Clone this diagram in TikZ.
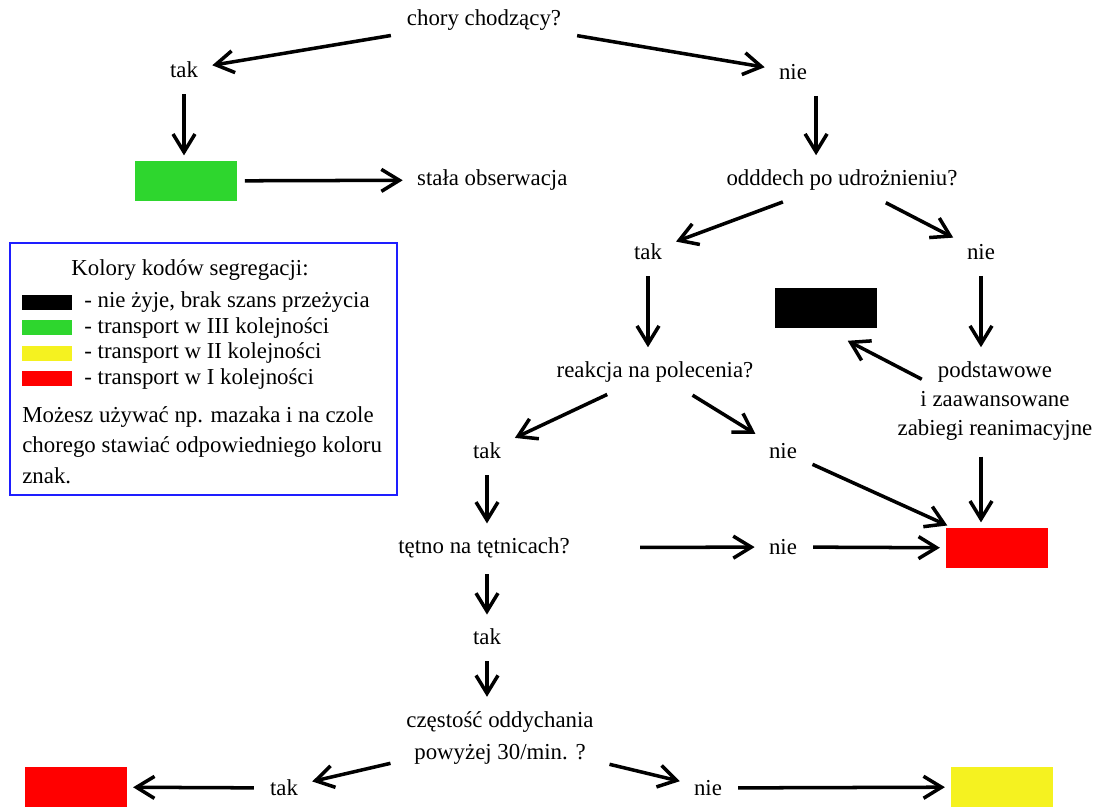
\documentclass[tikz,border=0pt]{standalone}
\usepackage{fontspec}
\setmainfont{Liberation Serif}
\usetikzlibrary{arrows.meta,calc}
\definecolor{kgreen}{RGB}{46,214,46}
\definecolor{kred}{RGB}{255,0,0}
\definecolor{kyellow}{RGB}{245,242,32}
\definecolor{kblue}{RGB}{30,30,255}
\tikzset{ txt/.style = { inner sep = 5pt % question / answer
, font = \fontsize{13}{16.5}\selectfont
}
, box/.style = { rectangle % colour code
, minimum width = 2.06cm
, minimum height = 0.8cm
, inner sep = 0pt
}
, swatch/.style = { rectangle % legend colour
, minimum width = 1cm
, minimum height = 0.3cm
, inner sep = 0pt
}
, arr/.style = { -{Straight Barb[length=3.6mm,width=4.4mm,line width=2pt]}
, line width = 2pt
, shorten <= 4pt
, shorten >= 3pt
}
}

\begin{document}
\begin{tikzpicture}[x=0.02cm, y=-0.02cm]
  \useasboundingbox (0,0) rectangle (1100,807);
  % flow chart
  \node[txt] (q1) at (484,20) {chory chodzący?};
  \node[txt] (t1) at (184,70) {tak};
  \node[txt] (n1) at (793,72) {nie};
  \node[box, fill=kgreen] (g1) at (186,181) {};
  \node[txt, anchor=west] (obs) at (408,180) {stała obserwacja};
  \node[txt] (q2) at (842,180) {odddech po udrożnieniu?};
  \node[txt] (t2) at (648,252) {tak};
  \node[txt] (n2) at (981,252) {nie};
  \node[box, fill=black] (b1) at (826,308) {};
  \node[txt] (q3) at (655,372) {reakcja na polecenia?};
  \node[txt, align=center] (cpr) at (995,401) {podstawowe\\i zaawansowane\\zabiegi reanimacyjne};
  \node[txt] (t3) at (487,451) {tak};
  \node[txt] (n3) at (783,451) {nie};
  \node[box, fill=kred] (r1) at (997,548) {};
  \node[txt] (q4) at (484,548) {tętno na tętnicach?};
  \node[txt] (n4) at (783,547) {nie};
  \node[txt] (t4) at (487,637) {tak};
  \node[txt, align=center, font=\fontsize{13}{18.7}\selectfont] (q5) at (500,738) {częstość oddychania\\powyżej 30/min. ?};
  \node[txt] (t5) at (284,788) {tak};
  \node[txt] (n5) at (708,788) {nie};
  \node[box, fill=kred] (r2) at (76,787) {};
  \node[box, fill=kyellow] (y1) at (1002,787) {};

  \draw[arr] (q1) -- (t1);
  \draw[arr] (q1) -- (n1);
  \draw[arr] (t1.south) -- (t1.south |- g1.north);
  \draw[arr] (g1) -- (obs);
  \draw[arr] (n1.south east) -- (n1.south east |- q2.north);
  \draw[arr] (q2) -- (t2);
  \draw[arr] (q2) -- (n2);
  \draw[arr] (t2.south) -- (t2.south |- q3.north);
  \draw[arr] (n2.south) -- (n2.south |- cpr.north);
  \draw[arr] ($(cpr.north)+(-67,30)$) -- ($(b1.south)+(17,10)$);
  \draw[arr] (n2.south |- cpr.south) -- (n2.south |- r1.north);
  \draw[arr] (q3) -- (t3);
  \draw[arr] (q3) -- (n3);
  \draw[arr] (n3) -- (r1);
  \draw[arr] (t3.south) -- (t3.south |- q4.north);
  \draw[arr, shorten <= 35pt] (q4) -- (n4);
  \draw[arr] (n4) -- (r1);
  \draw[arr] (q4.south -| t3) -- (t4.north);
  \draw[arr] (t4.south) -- (t4.south |- q5.north);
  \draw[arr] (q5) -- (t5);
  \draw[arr] (t5) -- (r2);
  \draw[arr] (q5) -- (n5);
  \draw[arr] (n5) -- (y1);

  % legend
  \draw[kblue, line width=1.7pt] (10,243) rectangle (397,495);
  \node[txt] (lt) at (190,270) {Kolory kodów segregacji:};
  \foreach \c/\t [count=\i] in {black/{- nie żyje, brak szans przeżycia},
                                kgreen/{- transport w III kolejności},
                                kyellow/{- transport w II kolejności},
                                kred/{- transport w I kolejności}}
  {
    \node[swatch, fill=\c] (s\i) at (47,276.5+25.6*\i) {};
    \node[txt, anchor=west, inner sep=0pt] (l\i) at (84,276.5+25.6*\i) {\t};
  }
  \node[txt, anchor=north west, align=left, inner sep=0pt,
        font=\fontsize{13}{17.3}\selectfont] (note) at (22,406)
    {Możesz używać np. mazaka i na czole\\chorego stawiać odpowiedniego koloru\\znak.};
\end{tikzpicture}
\end{document}
